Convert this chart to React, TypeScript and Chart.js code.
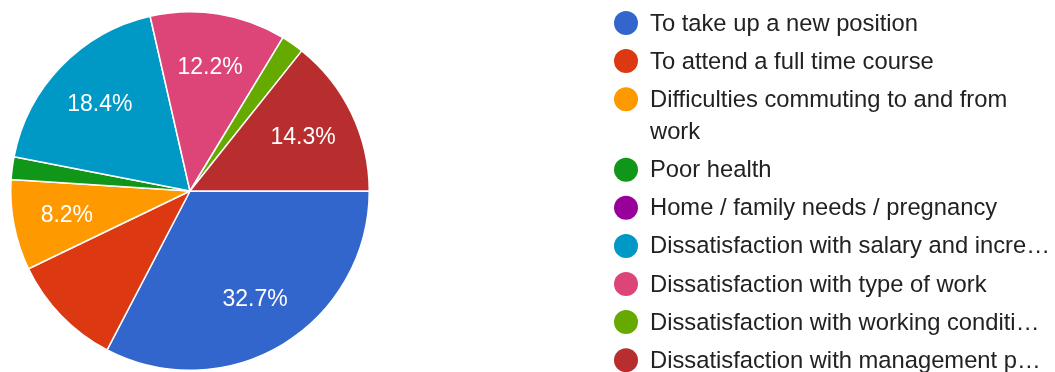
import React, { useEffect, useRef } from "react";
import { Chart, registerables } from "chart.js";

Chart.register(...registerables);

const categories: string[] = [
  "To take up a new position",
  "To attend a full time course",
  "Difficulties commuting to and from work",
  "Poor health",
  "Home / family needs / pregnancy",
  "Dissatisfaction with salary and increments",
  "Dissatisfaction with type of work",
  "Dissatisfaction with working conditions",
  "Dissatisfaction with management practices",
];

// legend text exactly as displayed (wrapped / truncated)
const legendLines: string[][] = [
  ["To take up a new position"],
  ["To attend a full time course"],
  ["Difficulties commuting to and from", "work"],
  ["Poor health"],
  ["Home / family needs / pregnancy"],
  ["Dissatisfaction with salary and incre\u2026"],
  ["Dissatisfaction with type of work"],
  ["Dissatisfaction with working conditi\u2026"],
  ["Dissatisfaction with management p\u2026"],
];

const responses: number[] = [16, 5, 4, 1, 0, 9, 6, 1, 7];
const showSliceLabel: boolean[] = [true, false, true, false, false, true, true, false, true];

const colors: string[] = [
  "#3366cc",
  "#dc3912",
  "#ff9900",
  "#109618",
  "#990099",
  "#0099c6",
  "#dd4477",
  "#66aa00",
  "#b82e2e",
];

const FONT = "'Liberation Sans', Arial, sans-serif";

const sliceLabelPlugin = {
  id: "sliceLabels",
  afterDatasetsDraw(chart: any) {
    const ctx = chart.ctx;
    const meta = chart.getDatasetMeta(0);
    const total = responses.reduce((a, b) => a + b, 0);
    ctx.save();
    ctx.fillStyle = "#ffffff";
    ctx.font = `23px ${FONT}`;
    ctx.textAlign = "center";
    ctx.textBaseline = "middle";
    meta.data.forEach((arc: any, i: number) => {
      if (!showSliceLabel[i]) return;
      const { x, y, startAngle, endAngle, outerRadius } = arc.getProps(
        ["x", "y", "startAngle", "endAngle", "outerRadius"],
        true
      );
      const mid = (startAngle + endAngle) / 2;
      const r = outerRadius * 0.7;
      const pct = ((responses[i] / total) * 100).toFixed(1) + "%";
      ctx.fillText(pct, x + Math.cos(mid) * r, y + Math.sin(mid) * r + 1);
    });
    ctx.restore();
  },
};

const legendPlugin = {
  id: "customLegend",
  afterDraw(chart: any) {
    const ctx = chart.ctx;
    const markerX = 626;
    const textX = 650;
    let cy = 23;
    const rowGap = 38.1;
    const wrapGap = 32.4;
    ctx.save();
    ctx.font = `23.75px ${FONT}`;
    ctx.textAlign = "left";
    ctx.textBaseline = "alphabetic";
    legendLines.forEach((lines, i) => {
      ctx.fillStyle = colors[i];
      ctx.beginPath();
      ctx.arc(markerX, cy, 12, 0, Math.PI * 2);
      ctx.fill();
      ctx.fillStyle = "#222222";
      lines.forEach((line, j) => {
        ctx.fillText(line, textX, cy + 7.5 + j * wrapGap);
      });
      cy += rowGap + (lines.length - 1) * wrapGap;
    });
    ctx.restore();
  },
};

export default function App() {
  const ref = useRef<HTMLCanvasElement | null>(null);

  useEffect(() => {
    if (!ref.current) return;
    const chart = new Chart(ref.current, {
      type: "pie",
      data: {
        labels: categories,
        datasets: [
          {
            data: responses,
            backgroundColor: colors,
            borderColor: "#ffffff",
            borderWidth: 1.5,
          },
        ],
      },
      options: {
        responsive: false,
        animation: false,
        rotation: 90,
        layout: { padding: { left: 10, top: 11, right: 685, bottom: 1 } },
        plugins: {
          legend: { display: false },
          tooltip: { enabled: false },
        },
      },
      plugins: [sliceLabelPlugin, legendPlugin],
    });
    return () => chart.destroy();
  }, []);

  return (
    <div style={{ position: "fixed", left: 0, top: 0, width: 1055, height: 372, background: "#fff" }}>
      <canvas ref={ref} width={1055} height={372} />
    </div>
  );
}
